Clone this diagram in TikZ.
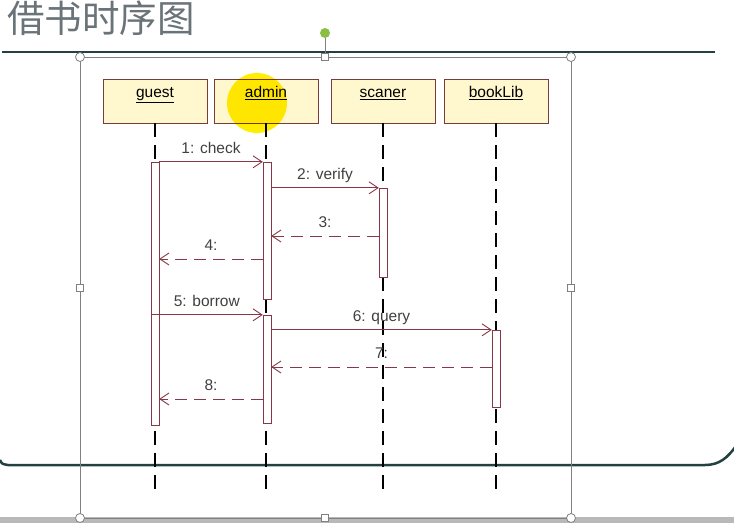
\documentclass[tikz,border=0pt]{standalone}
\usepackage{fontspec}
\setmainfont{Liberation Sans}
\newfontfamily\cjk{Noto Sans CJK SC}
\usetikzlibrary{positioning,arrows.meta}

\definecolor{msgred}{RGB}{135,55,70}
\definecolor{boxline}{RGB}{120,60,60}
\definecolor{boxfill}{RGB}{255,247,205}
\definecolor{slate}{RGB}{35,65,65}
\definecolor{titlegray}{RGB}{105,115,120}
\definecolor{handlegreen}{RGB}{140,190,70}
\definecolor{hilite}{RGB}{255,238,0}

\begin{document}
\begin{tikzpicture}[x=1pt,y=-1pt,
    obj/.style={draw=boxline,fill=boxfill,anchor=north,minimum width=104pt,
      inner xsep=0pt,inner ysep=0pt,text height=18pt,text depth=26pt,
      font=\fontsize{15.5}{18}\selectfont},
    act/.style={draw=msgred,fill=white,minimum width=8pt,inner sep=0pt},
    life/.style={black,line width=1.3pt,dash pattern=on 14pt off 8pt},
    msg/.style={draw=msgred,line width=0.9pt,-{Straight Barb[length=9pt,width=12pt]}},
    ret/.style={msg,dash pattern=on 12pt off 7pt},
    lab/.style={above=3pt,inner sep=2pt,text height=10pt,text depth=3pt,
      text=black!75,font=\fontsize{15.5}{18}\selectfont},
    handle/.style={draw=gray,fill=white,line width=0.8pt}]
  \useasboundingbox (0,0) rectangle (734,523);

  % slide
  \node[anchor=north west,inner sep=0pt,text=titlegray,
    font=\cjk\fontsize{37.5}{42}\selectfont] (title) at (7,1) {借书时序图};
  \draw[slate,line width=2.5pt] (2,52) -- (715,52);
  \draw[slate,line width=2.5pt] (0,460) .. controls (2,464) .. (8,465)
    -- (705,465) .. controls (720,465) and (728,457) .. (736,446);
  \fill[gray!55] (0,517) rectangle (734,523);

  % objects
  \node[obj] (guest) at (155,79) {\underline{guest}};
  \node[obj] (admin) at (266,79) {\underline{admin}};
  \node[obj] (scaner) at (383,79) {\underline{scaner}};
  \node[obj] (bookLib) at (496,79) {\underline{bookLib}};
  \fill[hilite,blend mode=multiply] (257,103) circle (30);

  % lifelines
  \foreach \o in {guest,admin,scaner,bookLib}
    \draw[life] (\o.south) -- (\o.south |- 0,493);

  % activations
  \node[act,minimum height=263pt] (g1) at (155,293.5) {};
  \node[act,minimum height=137pt] (a1) at (267,230.5) {};
  \node[act,minimum height=108pt] (a2) at (267,369) {};
  \node[act,minimum height=89pt] (s1) at (383,232.5) {};
  \node[act,minimum height=77pt] (b1) at (496,368.5) {};

  % messages
  \draw[msg] (g1.north east) -- node[lab] {1: check} (a1.north west);
  \draw[msg] (a1.east |- s1.north) -- node[lab] {2: verify} (s1.north west);
  \draw[ret] (s1.west |- 0,236) -- node[lab] {3:} (a1.east |- 0,236);
  \draw[ret] (a1.west |- 0,259) -- node[lab] {4:} (g1.east |- 0,259);
  \draw[msg] (g1.west |- a2.north) -- node[lab] {5: borrow} (a2.north west);
  \draw[msg] (a2.east |- b1.north) -- node[lab] {6: query} (b1.north west);
  \draw[ret] (b1.west |- 0,367) -- node[lab] {7:} (a2.east |- 0,367);
  \draw[ret] (a2.west |- 0,399) -- node[lab] {8:} (g1.east |- 0,399);

  % selection frame
  \draw[gray,line width=0.8pt] (80,57) rectangle (571,518);
  \draw[gray,line width=0.8pt] (325,38) -- (325,54);
  \fill[handlegreen] (325,33) circle (5);
  \foreach \p in {(80,57),(571,57),(80,518),(571,518)}
    \draw[handle] \p circle (4.5);
  \foreach \p in {(325,57),(80,288),(571,288),(325,518)}
    \draw[handle] \p ++(-3.5,-3.5) rectangle ++(7,7);
\end{tikzpicture}
\end{document}
